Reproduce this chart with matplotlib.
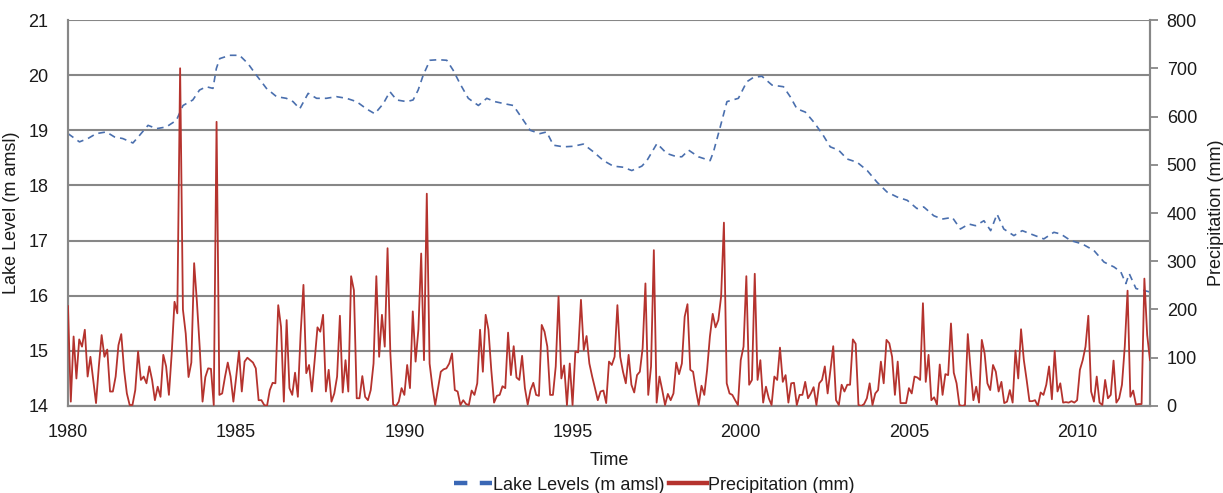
import numpy as np
import matplotlib
matplotlib.use("Agg")
import matplotlib.pyplot as plt
from matplotlib.lines import Line2D

# monthly precipitation (mm), Jan 1980 - Mar 2012, one row per year
precip_mm = [
    207, 9, 144, 57, 138, 123, 158, 61, 102, 54, 6, 82,          # 1980
    147, 102, 117, 30, 30, 61, 126, 149, 75, 26, 2, 2,           # 1981
    33, 113, 54, 61, 47, 82, 54, 12, 40, 19, 106, 82,            # 1982
    23, 109, 216, 192, 700, 200, 150, 60, 90, 296, 215, 120,     # 1983
    9, 60, 78, 77, 2, 589, 23, 26, 60, 90, 61, 9,                # 1984
    60, 114, 30, 92, 100, 95, 90, 78, 12, 12, 2, 0,              # 1985
    33, 48, 47, 209, 164, 9, 178, 37, 23, 69, 19, 151,           # 1986
    251, 68, 85, 30, 95, 163, 154, 189, 30, 75, 9, 26,           # 1987
    61, 187, 28, 95, 30, 269, 240, 16, 16, 62, 19, 12,           # 1988
    33, 88, 269, 102, 189, 123, 327, 109, 3, 0, 9, 37,           # 1989
    23, 85, 37, 196, 92, 158, 316, 95, 440, 88, 40, 2,           # 1990
    37, 71, 76, 78, 88, 109, 33, 30, 2, 12, 4, 2,                # 1991
    32, 23, 47, 158, 71, 189, 158, 75, 7, 21, 23, 41,            # 1992
    37, 152, 64, 124, 59, 54, 104, 37, 3, 33, 48, 23,            # 1993
    21, 168, 154, 123, 23, 23, 82, 227, 57, 84, 2, 88,           # 1994
    2, 113, 111, 220, 116, 145, 88, 61, 37, 12, 30, 32,          # 1995
    6, 92, 85, 102, 209, 102, 71, 47, 106, 44, 28, 64,           # 1996
    71, 120, 254, 23, 82, 323, 7, 61, 33, 2, 25, 12,             # 1997
    26, 90, 66, 88, 185, 211, 75, 71, 33, 2, 42, 23,             # 1998
    75, 144, 191, 163, 178, 227, 380, 47, 26, 23, 12, 2,         # 1999
    95, 123, 269, 44, 54, 274, 54, 95, 7, 40, 16, 2,             # 2000
    61, 54, 121, 50, 64, 7, 47, 48, 2, 23, 23, 50,               # 2001
    16, 26, 39, 2, 47, 54, 82, 26, 75, 124, 12, 2,               # 2002
    44, 30, 44, 44, 138, 129, 2, 0, 4, 16, 47, 2,                # 2003
    26, 33, 92, 47, 137, 130, 102, 23, 92, 6, 6, 6,              # 2004
    37, 26, 61, 59, 54, 213, 50, 106, 12, 18, 3, 86,             # 2005
    23, 66, 64, 171, 69, 47, 2, 0, 2, 149, 75, 12,               # 2006
    40, 7, 137, 109, 47, 33, 85, 71, 30, 50, 6, 9,               # 2007
    33, 7, 115, 57, 159, 95, 54, 10, 10, 12, 0, 28,              # 2008
    23, 44, 82, 14, 114, 30, 47, 7, 8, 7, 10, 7,                 # 2009
    12, 75, 95, 123, 187, 30, 9, 61, 7, 2, 54, 16,               # 2010
    23, 94, 7, 16, 44, 123, 239, 19, 32, 3, 4, 4,                # 2011
    264, 147, 95,                                                # 2012
]

# lake level readings (decimal year, m amsl)
lake_year = [
    1980.00, 1980.34, 1980.59, 1980.84, 1981.14, 1981.38, 1981.63, 1981.93,
    1982.13, 1982.38, 1982.63, 1982.92, 1983.22, 1983.42, 1983.71, 1983.91,
    1984.11, 1984.31, 1984.41, 1984.51, 1984.81, 1985.10, 1985.35, 1985.60,
    1985.90, 1986.20, 1986.49, 1986.69, 1986.89, 1987.14, 1987.39, 1987.68,
    1987.98, 1988.28, 1988.58, 1988.87, 1989.12, 1989.37, 1989.57, 1989.77,
    1990.07, 1990.26, 1990.41, 1990.56, 1990.76, 1991.01, 1991.26, 1991.45,
    1991.65, 1991.90, 1992.20, 1992.45, 1992.69, 1992.99, 1993.24, 1993.44,
    1993.74, 1994.03, 1994.23, 1994.43, 1994.73, 1995.02, 1995.32, 1995.62,
    1995.92, 1996.21, 1996.51, 1996.76, 1997.06, 1997.21, 1997.51, 1997.80,
    1998.10, 1998.25, 1998.45, 1998.74, 1999.09, 1999.19, 1999.39, 1999.59,
    1999.93, 2000.18, 2000.38, 2000.63, 2000.93, 2001.27, 2001.47, 2001.67,
    2001.92, 2002.17, 2002.42, 2002.66, 2002.91, 2003.16, 2003.46, 2003.76,
    2004.05, 2004.35, 2004.65, 2004.95, 2005.24, 2005.44, 2005.74, 2005.99,
    2006.29, 2006.53, 2006.78, 2006.98, 2007.23, 2007.43, 2007.62, 2007.82,
    2008.12, 2008.37, 2008.62, 2009.01, 2009.31, 2009.51, 2009.81, 2010.15,
    2010.50, 2010.80, 2011.10, 2011.30, 2011.45, 2011.55, 2011.75, 2011.95,
    2012.15,
]
lake_level = [
    18.94, 18.79, 18.85, 18.94, 18.97, 18.88, 18.85, 18.77,
    18.91, 19.09, 19.03, 19.06, 19.18, 19.45, 19.55, 19.73,
    19.79, 19.76, 20.12, 20.30, 20.36, 20.36, 20.21, 20.00,
    19.76, 19.61, 19.58, 19.52, 19.39, 19.67, 19.58, 19.58,
    19.61, 19.58, 19.52, 19.39, 19.30, 19.48, 19.70, 19.55,
    19.52, 19.55, 19.73, 20.00, 20.27, 20.28, 20.27, 20.09,
    19.85, 19.58, 19.45, 19.58, 19.52, 19.48, 19.45, 19.27,
    19.00, 18.94, 18.97, 18.73, 18.70, 18.71, 18.75, 18.61,
    18.45, 18.35, 18.33, 18.27, 18.35, 18.45, 18.76, 18.58,
    18.52, 18.52, 18.64, 18.52, 18.45, 18.61, 19.06, 19.52,
    19.58, 19.88, 19.96, 19.98, 19.82, 19.79, 19.61, 19.39,
    19.33, 19.15, 18.94, 18.70, 18.64, 18.48, 18.42, 18.27,
    18.06, 17.88, 17.79, 17.73, 17.58, 17.61, 17.45, 17.39,
    17.42, 17.21, 17.30, 17.27, 17.36, 17.18, 17.48, 17.21,
    17.09, 17.18, 17.12, 17.03, 17.15, 17.12, 17.00, 16.94,
    16.82, 16.61, 16.52, 16.43, 16.22, 16.40, 16.13, 16.10,
    16.07,
]

year_ticks = [1980, 1985, 1990, 1995, 2000, 2005, 2010]
level_ticks = [14, 15, 16, 17, 18, 19, 20, 21]
precip_ticks = [0, 100, 200, 300, 400, 500, 600, 700, 800]

plt.rcParams['font.family'] = ['Liberation Sans', 'DejaVu Sans']
txt = '#1a1a1a'
grid_c = '#878787'
blue = '#4a6fae'
red = '#b5332e'
fs = 13

months = 1980 + np.arange(len(precip_mm)) / 12.0

fig = plt.figure(figsize=(12.23, 4.93), dpi=100)
ax = fig.add_axes([0.0556, 0.1765, 0.8847, 0.7829])
ax2 = ax.twinx()

ax.plot(lake_year, lake_level, color=blue, lw=1.2, linestyle=(0, (4, 3)), zorder=3)
ax2.plot(months, precip_mm, color=red, lw=1.3, zorder=3)

ax.set_xlim(1980, months[-1])
ax.set_ylim(14, 21)
ax2.set_ylim(0, 800)
ax.set_xticks(year_ticks)
ax.set_yticks(level_ticks)
ax2.set_yticks(precip_ticks)

ax.grid(axis='y', color=grid_c, lw=1.5)
ax.set_axisbelow(True)

for a in (ax, ax2):
    a.spines['top'].set_visible(False)
    for side in ('left', 'right', 'bottom'):
        a.spines[side].set_color(grid_c)
        a.spines[side].set_linewidth(1.5)

ax.tick_params(axis='x', length=0, pad=13, labelsize=fs, labelcolor=txt)
ax.tick_params(axis='y', length=0, pad=14, labelsize=fs, labelcolor=txt)
ax2.tick_params(axis='y', length=6, width=1.3, color=grid_c, pad=6,
                labelsize=fs, labelcolor=txt)

ax.set_xlabel('Time', fontsize=fs, color=txt, labelpad=8)
ax.set_ylabel('Lake Level (m amsl)', fontsize=fs, color=txt, labelpad=6)
ax2.set_ylabel('Precipitation (mm)', fontsize=fs, color=txt, labelpad=8)

handles = [
    Line2D([], [], color='#3a67b5', lw=3.2, linestyle=(0, (3, 2.8))),
    Line2D([], [], color=red, lw=3.2),
]
fig.legend(handles, ['Lake Levels (m amsl)', 'Precipitation (mm)'],
           loc='center', bbox_to_anchor=(0.535, 0.016), ncol=2, frameon=False,
           fontsize=fs, handlelength=2.1, handletextpad=0.05,
           columnspacing=0.25, labelcolor=txt)

fig.savefig('out.png', dpi=100)
